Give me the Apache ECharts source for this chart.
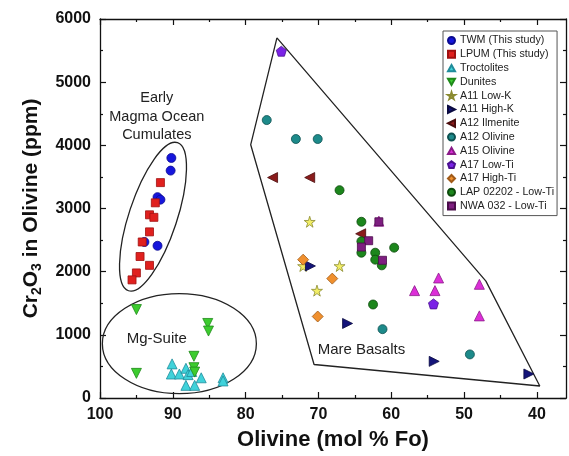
<!DOCTYPE html>
<html>
<head>
<meta charset="utf-8">
<script src="https://cdn.jsdelivr.net/npm/echarts@6/dist/echarts.min.js"></script>
<style>
  html, body { margin: 0; padding: 0; background: #fff; }
  #chart { width: 569px; height: 456px; }
</style>
</head>
<body>
<div id="chart"></div>
<script>
// values: [Fo mol %, Cr2O3 ppm]
const twm = [[90.2, 3800], [90.3, 3600], [92.1, 3180], [91.7, 3140], [92.1, 2410], [93.9, 2470]]
const lpum = [[91.7, 3410], [92.4, 3090], [93.2, 2900], [92.6, 2860], [93.2, 2630], [94.2, 2470],
  [94.5, 2240], [93.2, 2100], [95.0, 1980], [95.6, 1870]]
const troctolites = [[90.1, 540], [90.2, 380], [89.1, 380], [88.2, 470], [87.9, 370], [87.4, 420],
  [86.1, 320], [88.2, 200], [87.0, 200], [83.1, 320], [83.1, 270]]
const dunites = [[95.0, 1400], [85.2, 1180], [85.1, 1060], [95.0, 390], [87.1, 660], [87.1, 480], [87.0, 410]]
const a11LowK = [[71.2, 2790], [72.1, 2090], [67.1, 2090], [70.2, 1700]]
const a11HighK = [[71.1, 2090], [66.0, 1180], [54.1, 580], [41.1, 380]]
const a12Ilmenite = [[76.3, 3490], [71.2, 3490], [64.2, 2600]]
const a12Olivine = [[77.1, 4400], [73.1, 4100], [70.1, 4100], [61.2, 1090], [49.2, 690]]
const a15Olivine = [[61.7, 2800], [53.5, 1900], [56.8, 1700], [54.0, 1700], [47.9, 1800], [47.9, 1300]]
const a17LowTi = [[75.1, 5490], [54.2, 1490]]
const a17HighTi = [[72.1, 2190], [68.1, 1890], [70.1, 1290]]
const lap02202 = [[67.1, 3290], [64.1, 2790], [64.1, 2480], [64.1, 2300], [62.2, 2300], [62.2, 2190],
  [61.3, 2100], [59.6, 2380], [62.5, 1480]]
const nwa032 = [[61.7, 2790], [63.1, 2490], [64.1, 2390], [61.2, 2180]]

// outline of the mare basalt field
const mareField = [[75.7, 5700], [79.3, 4010], [70.6, 530], [39.6, 190], [47.0, 1850], [75.7, 5700]]

const xLabels = [100, 90, 80, 70, 60, 50, 40]
const xMinor = [95, 85, 75, 65, 55, 45]

const starPath = 'path://M50,0 L61,35 L98,35 L68,57 L79,91 L50,70 L21,91 L32,57 L2,35 L39,35 Z'
const pentPath = 'path://M50,0 L98,36 L80,92 L20,92 L2,36 Z'
const rightTri = 'path://M0,0 L10,5 L0,10 Z'
const leftTri = 'path://M10,0 L0,5 L10,10 Z'
const downTri = 'path://M0,0 L10,0 L5,9 Z'
const upTri = 'path://M5,0 L10,9 L0,9 Z'

const font = '"Liberation Sans", Arial, sans-serif'

function pts(name, data, symbol, size, color, border) {
    return {
        name: name,
        type: 'scatter',
        data: data,
        symbol: symbol,
        symbolSize: size,
        itemStyle: { color: color, borderColor: border, borderWidth: 0.8, opacity: 1 },
        z: 3
    }
}

const axisLine = { show: true, lineStyle: { color: '#111', width: 1.3 } }

const chart = echarts.init(document.getElementById('chart'))
chart.setOption({
    animation: false,
    grid: { left: 100, right: 3, top: 19, bottom: 54 },
    legend: {
        orient: 'vertical',
        left: 443,
        top: 31,
        padding: [4, 3, 4, 4],
        itemWidth: 7,
        itemHeight: 7,
        itemGap: 2.8,
        borderColor: '#555',
        borderWidth: 1,
        backgroundColor: '#fff',
        textStyle: { fontFamily: font, fontSize: 10.7, color: '#222' },
        data: ['TWM (This study)', 'LPUM (This study)', 'Troctolites', 'Dunites', 'A11 Low-K', 'A11 High-K',
            'A12 Ilmenite', 'A12 Olivine', 'A15 Olivine', 'A17 Low-Ti', 'A17 High-Ti',
            'LAP 02202 - Low-Ti', 'NWA 032 - Low-Ti']
    },
    xAxis: [
        {
            type: 'value', inverse: true, min: 36, max: 100, position: 'bottom',
            name: 'Olivine (mol % Fo)', nameLocation: 'middle', nameGap: 31,
            nameTextStyle: { fontFamily: font, fontSize: 22, fontWeight: 'bold', color: '#111' },
            axisLine: axisLine,
            axisTick: { inside: true, length: 6, customValues: xLabels, lineStyle: { color: '#111', width: 1.2 } },
            axisLabel: { customValues: xLabels, fontFamily: font, fontSize: 16, fontWeight: 'bold', color: '#111', margin: 9 },
            splitLine: { show: false }
        },
        {
            type: 'value', inverse: true, min: 36, max: 100, position: 'bottom',
            axisLine: { show: false },
            axisTick: { inside: true, length: 3, customValues: xMinor, lineStyle: { color: '#111', width: 1.2 } },
            axisLabel: { show: false }, splitLine: { show: false }
        },
        {
            type: 'value', inverse: true, min: 36, max: 100, position: 'top',
            axisLine: axisLine,
            axisTick: { inside: true, length: 6, customValues: xLabels, lineStyle: { color: '#111', width: 1.2 } },
            axisLabel: { show: false }, splitLine: { show: false }
        },
        {
            type: 'value', inverse: true, min: 36, max: 100, position: 'top',
            axisLine: { show: false },
            axisTick: { inside: true, length: 3, customValues: xMinor, lineStyle: { color: '#111', width: 1.2 } },
            axisLabel: { show: false }, splitLine: { show: false }
        }
    ],
    yAxis: [
        {
            type: 'value', min: 0, max: 6000, interval: 1000, position: 'left',
            name: '{b|Cr}{s|2}{b|O}{s|3}{b| in Olivine (ppm)}',
            nameLocation: 'middle', nameGap: 46,
            nameTextStyle: {
                rich: {
                    b: { fontFamily: font, fontSize: 21, fontWeight: 'bold', color: '#111' },
                    s: { fontFamily: font, fontSize: 14, fontWeight: 'bold', color: '#111', padding: [12, 0, 0, 0] }
                }
            },
            axisLine: axisLine,
            axisTick: { inside: true, length: 6, lineStyle: { color: '#111', width: 1.2 } },
            minorTick: { show: true, splitNumber: 2, length: 3, lineStyle: { color: '#111', width: 1.2 } },
            axisLabel: {
                formatter: function (v) { return String(v) },
                fontFamily: font, fontSize: 16, fontWeight: 'bold', color: '#111', margin: 9
            },
            splitLine: { show: false }, minorSplitLine: { show: false }
        },
        {
            type: 'value', min: 0, max: 6000, interval: 1000, position: 'right',
            axisLine: axisLine,
            axisTick: { inside: true, length: 6, lineStyle: { color: '#111', width: 1.2 } },
            minorTick: { show: true, splitNumber: 2, length: 3, lineStyle: { color: '#111', width: 1.2 } },
            axisLabel: { show: false },
            splitLine: { show: false }, minorSplitLine: { show: false }
        }
    ],
    series: [
        {
            name: 'mare field', type: 'line', data: mareField, symbol: 'none', silent: true,
            lineStyle: { color: '#222', width: 1.3 }, z: 2
        },
        pts('TWM (This study)', twm, 'circle', 9, '#1616dc', '#0a0a90'),
        pts('LPUM (This study)', lpum, 'rect', 8, '#e0201e', '#a01010'),
        pts('Troctolites', troctolites, upTri, 10, '#3fd2da', '#1f8c9a'),
        pts('Dunites', dunites, downTri, 10, '#3ccc2e', '#1f8a1a'),
        pts('A11 Low-K', a11LowK, starPath, 11, '#f2ee66', '#8a8a30'),
        pts('A11 High-K', a11HighK, rightTri, 10, '#14147a', '#0a0a40'),
        pts('A12 Ilmenite', a12Ilmenite, leftTri, 10, '#8a1c1c', '#4a0c0c'),
        pts('A12 Olivine', a12Olivine, 'circle', 9, '#1d8a8a', '#0e5050'),
        pts('A15 Olivine', a15Olivine, upTri, 10, '#dc2ed8', '#8a1a88'),
        pts('A17 Low-Ti', a17LowTi, pentPath, 10, '#7a22e6', '#4a1090'),
        pts('A17 High-Ti', a17HighTi, 'diamond', 11, '#f0902e', '#a05a18'),
        pts('LAP 02202 - Low-Ti', lap02202, 'circle', 9, '#1c861c', '#0c4a0c'),
        pts('NWA 032 - Low-Ti', nwa032, 'rect', 8, '#7e1e80', '#4a0c4a')
    ]
})

// group outlines and labels, anchored in data units
const emoCenter = chart.convertToPixel({ gridIndex: 0 }, [92.72, 2870])
const mgCenter = chart.convertToPixel({ gridIndex: 0 }, [89.1, 860])
const emoText = chart.convertToPixel({ gridIndex: 0 }, [92.2, 4450])
const mgText = chart.convertToPixel({ gridIndex: 0 }, [92.2, 940])
const mareText = chart.convertToPixel({ gridIndex: 0 }, [64.1, 770])

const outline = { fill: 'none', stroke: '#222', lineWidth: 1.3 }
const labelStyle = { fontFamily: font, fontSize: 15, fill: '#222', align: 'center', verticalAlign: 'middle' }

chart.setOption({
    graphic: [
        { type: 'ellipse', x: emoCenter[0], y: emoCenter[1], rotation: -0.32,
          shape: { cx: 0, cy: 0, rx: 24, ry: 78 }, style: outline, z: 2, silent: true },
        { type: 'ellipse', x: mgCenter[0], y: mgCenter[1],
          shape: { cx: 0, cy: 0, rx: 77, ry: 50 }, style: outline, z: 2, silent: true },
        { type: 'text', x: emoText[0], y: emoText[1], z: 4, silent: true,
          style: Object.assign({}, labelStyle, { text: 'Early\nMagma Ocean\nCumulates', fontSize: 14.5, lineHeight: 18.5 }) },
        { type: 'text', x: mgText[0], y: mgText[1], z: 4, silent: true,
          style: Object.assign({}, labelStyle, { text: 'Mg-Suite' }) },
        { type: 'text', x: mareText[0], y: mareText[1], z: 4, silent: true,
          style: Object.assign({}, labelStyle, { text: 'Mare Basalts' }) }
    ]
})
</script>
</body>
</html>
